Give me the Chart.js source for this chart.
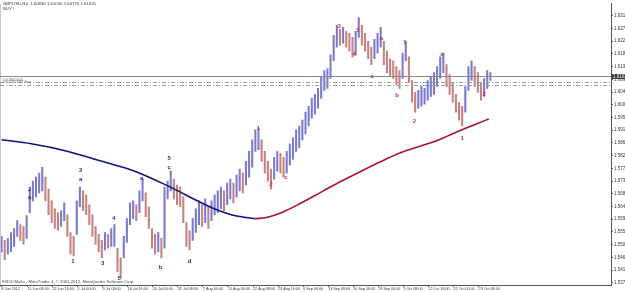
<!DOCTYPE html>
<html>
<head>
<meta charset="utf-8">
<script src="https://cdn.jsdelivr.net/npm/chart.js@4/dist/chart.umd.min.js"></script>
<style>
  html, body { margin: 0; padding: 0; background: #fff; }
  #wrap { width: 625px; height: 292px; }
</style>
</head>
<body>
<div id="wrap"><canvas id="c" width="625" height="292"></canvas></div>
<script>
// GBPUSD H4, one entry every 4 bars (high / low)
const highs = [1.5535,1.5521,1.5528,1.5549,1.5563,1.5591,1.5577,1.5570,1.5609,1.5703,
  1.5731,1.5745,1.5759,1.5780,1.5745,1.5703,1.5661,1.5633,1.5619,1.5626,
  1.5654,1.5612,1.5549,1.5535,1.5661,1.5710,1.5696,1.5682,1.5647,1.5612,
  1.5570,1.5542,1.5521,1.5549,1.5542,1.5563,1.5577,1.5493,1.5459,1.5535,
  1.5598,1.5654,1.5661,1.5647,1.5696,1.5738,1.5689,1.5640,1.5563,1.5542,
  1.5549,1.5528,1.5710,1.5731,1.5766,1.5738,1.5717,1.5710,1.5675,1.5584,
  1.5556,1.5598,1.5633,1.5661,1.5647,1.5668,1.5640,1.5661,1.5682,1.5696,
  1.5710,1.5696,1.5724,1.5738,1.5724,1.5752,1.5773,1.5759,1.5801,1.5836,
  1.5877,1.5912,1.5919,1.5877,1.5836,1.5801,1.5773,1.5815,1.5836,1.5829,
  1.5815,1.5836,1.5863,1.5884,1.5912,1.5926,1.5947,1.5975,1.5996,1.6024,
  1.6038,1.6059,1.6101,1.6122,1.6129,1.6178,1.6247,1.6282,1.6268,1.6275,
  1.6261,1.6254,1.6240,1.6261,1.6310,1.6282,1.6254,1.6226,1.6205,1.6233,
  1.6254,1.6275,1.6226,1.6191,1.6164,1.6157,1.6136,1.6122,1.6184,1.6226,
  1.6171,1.6087,1.6045,1.6052,1.6066,1.6059,1.6087,1.6101,1.6115,1.6136,
  1.6171,1.6184,1.6143,1.6108,1.6080,1.6038,1.6010,1.5996,1.6066,1.6136,
  1.6157,1.6136,1.6115,1.6080,1.6094,1.6122,1.6115];
const lows = [1.5480,1.5452,1.5473,1.5480,1.5500,1.5535,1.5521,1.5507,1.5528,1.5619,
  1.5661,1.5675,1.5689,1.5696,1.5661,1.5612,1.5584,1.5563,1.5556,1.5570,
  1.5591,1.5535,1.5473,1.5466,1.5542,1.5640,1.5626,1.5612,1.5577,1.5535,
  1.5507,1.5480,1.5459,1.5487,1.5493,1.5500,1.5500,1.5410,1.5389,1.5459,
  1.5514,1.5577,1.5598,1.5591,1.5619,1.5661,1.5605,1.5563,1.5493,1.5473,
  1.5480,1.5459,1.5493,1.5668,1.5696,1.5668,1.5647,1.5640,1.5584,1.5500,
  1.5487,1.5521,1.5549,1.5577,1.5570,1.5584,1.5563,1.5591,1.5612,1.5619,
  1.5633,1.5626,1.5647,1.5668,1.5654,1.5675,1.5696,1.5689,1.5717,1.5745,
  1.5780,1.5836,1.5842,1.5801,1.5759,1.5731,1.5703,1.5738,1.5766,1.5759,
  1.5745,1.5759,1.5787,1.5808,1.5836,1.5849,1.5877,1.5898,1.5926,1.5954,
  1.5968,1.5989,1.6024,1.6052,1.6059,1.6094,1.6157,1.6205,1.6212,1.6219,
  1.6205,1.6191,1.6171,1.6178,1.6240,1.6212,1.6191,1.6164,1.6143,1.6164,
  1.6184,1.6205,1.6143,1.6115,1.6101,1.6094,1.6073,1.6059,1.6094,1.6157,
  1.6080,1.6010,1.5975,1.5989,1.5996,1.6003,1.6017,1.6031,1.6038,1.6066,
  1.6094,1.6115,1.6066,1.6038,1.6010,1.5975,1.5947,1.5926,1.5975,1.6052,
  1.6087,1.6066,1.6045,1.6017,1.6031,1.6059,1.6087];
const barStep = 4; // H4 bars per entry

// moving average (bar index / price)
const maBars = [0, 38, 85, 128, 170, 213, 255, 274, 293, 312, 323, 338, 357, 383, 408, 434, 459, 485, 510, 536, 552, 570, 587, 606, 622];
const maValues = [1.5877, 1.5863, 1.5836, 1.5801, 1.5766, 1.5713, 1.5654, 1.5630, 1.5612, 1.5602, 1.5598, 1.5602, 1.5619, 1.5654, 1.5692, 1.5731, 1.5766, 1.5801, 1.5832, 1.5856, 1.5870, 1.5891, 1.5912, 1.5933, 1.5951];
const maTurn = 10; // index where the line turns from falling (blue) to rising (red)

const tickLabels = ["8 Jun 2012", "15 Jun 08:00", "22 Jun 16:00", "2 Jul 00:00", "9 Jul 08:00", "16 Jul 16:00", "24 Jul 00:00", "31 Jul 08:00", "7 Aug 16:00", "15 Aug 00:00", "22 Aug 08:00", "29 Aug 16:00", "6 Sep 00:00", "13 Sep 08:00", "20 Sep 16:00", "28 Sep 00:00", "5 Oct 08:00", "12 Oct 16:00", "22 Oct 00:00", "29 Oct 08:00"];
const tickBars = [0, 33, 65, 97, 129, 161, 193, 225, 257, 289, 321, 353, 385, 417, 449, 481, 513, 545, 577, 609];
const priceTicks = [1.5371, 1.5416, 1.5461, 1.5506, 1.5551, 1.5596, 1.5641, 1.5686, 1.5731, 1.5776, 1.5821, 1.5866, 1.5911, 1.5956, 1.6001, 1.6046, 1.6091, 1.6136, 1.6181, 1.6226, 1.6271, 1.6316];

const bidPrice = 1.61025;
const levelPrices = [1.6080, 1.6071];
const levelTexts = ["1.60800444", "1.60710793 Avg"];

// wave labels
const waveText  = ["2", "a", "1", "2", "a", "3", "4", "5", "a", "b", "5", "c", "d",
                   "1", "2", "c", "3", "4", "5", "c", "a", "b", "1", "2", "a", "1", "2"];
const waveBar   = [36, 36, 91, 101, 101, 129, 143, 150, 179, 203, 214, 214, 240,
                   328, 344, 363, 431, 450, 455, 473, 485, 505, 515, 527, 562, 588, 616];
const wavePrice = [1.5703, 1.5675, 1.5448, 1.5769, 1.5738, 1.5441, 1.5598, 1.5385, 1.5741, 1.5424, 1.5811, 1.5780, 1.5445,
                   1.5916, 1.5720, 1.5745, 1.6279, 1.6178, 1.6265, 1.6101, 1.6237, 1.6034, 1.6223, 1.5944, 1.6178, 1.5881, 1.6038];
const waveBlue = 13; // first labels are blue, the rest red

const barColors = highs.map((h, i) => {
  if (i === 0) return '#7a7acc';
  const mid = (h + lows[i]) / 2, prev = (highs[i - 1] + lows[i - 1]) / 2;
  return mid >= prev ? '#7a7acc' : '#c68080';
});

const overlay = {
  id: 'overlay',
  afterDatasetsDraw(chart) {
    const { ctx, chartArea: a, scales: { x, y } } = chart;
    ctx.save();
    // left frame line
    ctx.strokeStyle = '#c8c8c8';
    ctx.lineWidth = 1;
    ctx.beginPath(); ctx.moveTo(0.5, a.top); ctx.lineTo(0.5, a.bottom); ctx.stroke();

    // level lines
    ctx.strokeStyle = '#9a9a9a';
    ctx.setLineDash([4, 2, 1, 2]);
    levelPrices.forEach(p => {
      const py = Math.round(y.getPixelForValue(p)) + 0.5;
      ctx.beginPath(); ctx.moveTo(a.left, py); ctx.lineTo(a.right, py); ctx.stroke();
    });
    ctx.setLineDash([]);
    ctx.strokeStyle = '#8a8a8a';
    const by = Math.round(y.getPixelForValue(bidPrice)) + 0.5;
    ctx.beginPath(); ctx.moveTo(a.left, by); ctx.lineTo(a.right, by); ctx.stroke();

    ctx.font = '4px "Liberation Sans"';
    ctx.fillStyle = '#777';
    ctx.textBaseline = 'bottom';
    levelTexts.forEach((t, i) => {
      ctx.fillText(t, 2, y.getPixelForValue(levelPrices[i]) - 1);
    });

    // wave labels
    ctx.font = 'bold 6px "Liberation Sans"';
    ctx.textAlign = 'center';
    ctx.textBaseline = 'middle';
    waveText.forEach((t, i) => {
      ctx.fillStyle = i < waveBlue ? '#2a2a90' : '#c03048';
      ctx.fillText(t, x.getPixelForValue(waveBar[i]), y.getPixelForValue(wavePrice[i]));
    });

    // header and footer
    ctx.textAlign = 'left';
    ctx.fillStyle = '#333';
    ctx.font = '4.3px "Liberation Sans"';
    ctx.fillText('GBPUSD,H4  1.60830 1.61030 1.60770 1.61025', 3, 4);
    ctx.fillText('BUY !', 3, 9);
    ctx.fillStyle = '#444';
    ctx.font = '4.2px "Liberation Sans"';
    ctx.fillText('FXDD Malta - MetaTrader 4, \u00a9 2001-2012, MetaQuotes Software Corp.', 2, a.bottom - 3);

    // current price box on the axis
    ctx.fillStyle = '#2e3a3a';
    ctx.fillRect(a.right + 1, by - 2.5, 14, 5);
    ctx.fillStyle = '#fff';
    ctx.font = '4.5px "Liberation Sans"';
    ctx.fillText(bidPrice.toFixed(5), a.right + 2, by + 0.3);
    ctx.restore();
  }
};

const barData = highs.map((h, i) => ({ x: i * barStep, y: [lows[i], h] }));
const maPts = maBars.map((b, i) => ({ x: b, y: maValues[i] }));

new Chart(document.getElementById('c'), {
  type: 'bar',
  data: {
    datasets: [
      { type: 'line', data: maPts.slice(0, maTurn + 1), borderColor: '#12127e', borderWidth: 1.6,
        pointRadius: 0, cubicInterpolationMode: 'monotone', order: 0 },
      { type: 'line', data: maPts.slice(maTurn), borderColor: '#a8122e', borderWidth: 1.6,
        pointRadius: 0, cubicInterpolationMode: 'monotone', order: 0 },
      { type: 'bar', data: barData, backgroundColor: barColors, barThickness: 1.4, order: 1 }
    ]
  },
  options: {
    responsive: false,
    animation: false,
    devicePixelRatio: 1,
    layout: { padding: 0 },
    plugins: { legend: { display: false }, tooltip: { enabled: false } },
    scales: {
      x: {
        type: 'linear', min: -2, max: 778, offset: false,
        grid: { offset: false, drawOnChartArea: false, drawTicks: true, tickLength: 2, color: '#666' },
        border: { color: '#555' },
        afterBuildTicks: s => { s.ticks = tickBars.map(v => ({ value: v })); },
        afterFit: s => { s.height = 7; },
        ticks: {
          autoSkip: false, maxRotation: 0, align: 'start', padding: 0,
          color: '#333', font: { family: 'Liberation Sans', size: 3.7 },
          callback: (v, i) => tickLabels[i]
        }
      },
      y: {
        position: 'right', min: 1.5363, max: 1.6359,
        grid: { drawOnChartArea: false, drawTicks: true, tickLength: 2, color: '#666' },
        border: { color: '#555' },
        afterBuildTicks: s => { s.ticks = priceTicks.map(v => ({ value: v })); },
        afterFit: s => { s.width = 14; },
        ticks: {
          padding: 1, color: '#333', font: { family: 'Liberation Sans', size: 4.5 },
          callback: v => v.toFixed(5)
        }
      }
    }
  },
  plugins: [overlay]
});
</script>
</body>
</html>
